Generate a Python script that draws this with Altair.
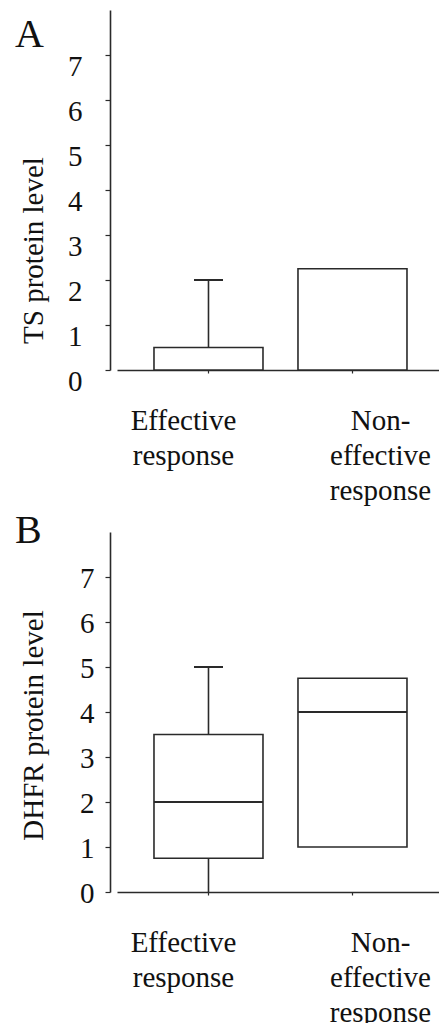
import json
import altair as alt
import pandas as pd

categories = ["Effective response", "Non-effective response"]
x_label_lines = [["Effective", "response"], ["Non-", "effective", "response"]]

# Panel A: TS protein level
a_lower = [0, 0]
a_q1 = [0, 0]
a_median = [None, None]
a_q3 = [0.5, 2.25]
a_upper = [2, 2.25]
a_cap = [2, None]

# Panel B: DHFR protein level
b_lower = [0, 1]
b_q1 = [0.75, 1]
b_median = [2, 4]
b_q3 = [3.5, 4.75]
b_upper = [5, 4.75]
b_cap = [5, None]

y_ticks = [0, 1, 2, 3, 4, 5, 6, 7]

FONT = "Liberation Serif"
INK = "#2a2a2a"
W, H = 322, 360

label_expr = " : ".join(
    [f"datum.value === {json.dumps(c)} ? {json.dumps(l)}" for c, l in zip(categories, x_label_lines)]
    + ["datum.label"]
)


def panel(letter, ytitle, lower, q1, med, q3, upper, cap, label_dy, label_pad, title_y, letter_y):
    df = pd.DataFrame({"cat": categories, "lower": lower, "q1": q1, "median": med,
                       "q3": q3, "upper": upper, "cap": cap})
    xenc = alt.X("cat:N", sort=categories,
                 scale=alt.Scale(paddingInner=0.243, paddingOuter=0.2396, align=0.536),
                 axis=alt.Axis(title=None, labelAngle=0, labelFont=FONT, labelFontSize=29,
                               labelColor="#111", labelLineHeight=35, labelBaseline="top",
                               labelPadding=33, labelExpr=label_expr,
                               labelOffset={"expr": "datum.value === 'Effective response' ? -25 : 28"},
                               tickSize=3, tickColor=INK, domainColor=INK, domainWidth=1.6,
                               tickWidth=1.2, grid=False))
    yscale = alt.Scale(domain=[0, 8], nice=False, zero=True)
    yaxis = alt.Axis(title=ytitle, values=y_ticks, offset=7, tickSize=5, tickColor=INK,
                     tickWidth=1.2, domainColor=INK, domainWidth=1.6, grid=False,
                     labelFont=FONT, labelFontSize=29, labelColor="#111",
                     labelPadding=label_pad, labelBaseline="middle", labelOffset=label_dy,
                     titleFont=FONT, titleFontSize=29, titleFontWeight="normal", titleColor="#111",
                     titleX=-77, titleY=title_y, titleAngle=270, titleAlign="center",
                     titleBaseline="middle")
    base = alt.Chart(df)
    whisk = base.mark_rule(color=INK, strokeWidth=1.6).encode(
        x=xenc, y=alt.Y("lower:Q", scale=yscale, axis=yaxis), y2="upper:Q")
    box = base.mark_bar(fill="white", stroke=INK, strokeWidth=1.6).encode(
        x=xenc, y=alt.Y("q1:Q", scale=yscale, axis=yaxis), y2="q3:Q")
    medt = base.transform_filter("isValid(datum.median)").mark_tick(
        color=INK, size=109, thickness=2, orient="horizontal", opacity=1).encode(
        x=xenc, y=alt.Y("median:Q", scale=yscale, axis=yaxis))
    capt = base.transform_filter("isValid(datum.cap)").mark_tick(
        color=INK, size=29, thickness=2, orient="horizontal", opacity=1).encode(
        x=xenc, y=alt.Y("cap:Q", scale=yscale, axis=yaxis))
    let = alt.Chart(pd.DataFrame({"t": [letter]})).mark_text(
        font=FONT, fontSize=40, align="left", baseline="alphabetic", color="#111").encode(
        text="t:N", x=alt.value(-102), y=alt.value(letter_y))
    return alt.layer(whisk, box, medt, capt, let).properties(width=W, height=H)


pa = panel("A", "TS protein level", a_lower, a_q1, a_median, a_q3, a_upper, a_cap,
           11, 23, 240, 37)
pb = panel("B", "DHFR protein level", b_lower, b_q1, b_median, b_q3, b_upper, b_cap,
           1, 11, 193, 11)

chart = alt.vconcat(pa, pb, spacing=6).properties(
    padding={"left": 15, "top": 10, "right": 0, "bottom": 0}
).configure(
    background="white", font=FONT
).configure_axis(
    labelFont=FONT, titleFont=FONT
).configure_view(stroke=None)

chart.save("out.html", embed_options={"renderer": "svg", "actions": False})
